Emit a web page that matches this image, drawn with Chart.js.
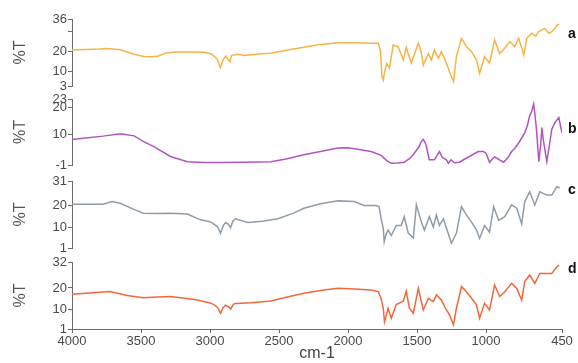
<!DOCTYPE html>
<html>
<head>
<meta charset="utf-8">
<script src="https://cdn.jsdelivr.net/npm/chart.js@4/dist/chart.umd.min.js"></script>
<style>
  body { margin: 0; background: #fff; width: 578px; height: 363px; overflow: hidden; position: relative; }
  canvas { position: absolute; left: 0; }
  .tag { position: absolute; left: 568px; font: bold 14px "Liberation Sans", Arial, sans-serif; color: #111; line-height: 14px; }
</style>
</head>
<body>
<canvas id="panelA" width="578" height="87" style="top:9px"></canvas>
<canvas id="panelB" width="578" height="86" style="top:89px"></canvas>
<canvas id="panelC" width="578" height="87" style="top:171px"></canvas>
<canvas id="panelD" width="578" height="111" style="top:252px"></canvas>
<div class="tag" style="top:26px">a</div>
<div class="tag" style="top:121px">b</div>
<div class="tag" style="top:182px">c</div>
<div class="tag" style="top:261px">d</div>
<script>
// x axis ticks (wavenumber, cm-1)
const xTicks = [4000, 3500, 3000, 2500, 2000, 1500, 1000, 450];

// spectrum a
const waveA = [4000, 3900, 3800, 3750, 3650, 3550, 3480, 3430, 3380, 3320, 3250, 3150, 3045, 2990, 2950, 2925, 2905, 2885, 2870, 2855, 2845, 2800, 2755, 2650, 2560, 2436, 2300, 2196, 2073, 1950, 1833, 1780, 1765, 1755, 1745, 1735, 1720, 1700, 1673, 1637, 1600, 1578, 1560, 1542, 1491, 1470, 1455, 1418, 1396, 1375, 1345, 1324, 1287, 1265, 1236, 1215, 1178, 1142, 1105, 1069, 1047, 1011, 975, 938, 902, 865, 829, 793, 764, 727, 705, 669, 640, 618, 575, 545, 524, 500, 487, 470];
const tA = [20.7, 21.0, 21.2, 21.5, 20.8, 18.6, 17.5, 17.4, 17.6, 19.2, 19.7, 19.8, 19.6, 18.8, 16.5, 12.0, 16.0, 17.8, 16.2, 15.0, 18.0, 18.6, 18.0, 18.8, 19.1, 20.7, 22.3, 23.5, 24.3, 24.3, 24.0, 24.0, 20, 8, 6, 10, 14, 11.9, 23.2, 22.3, 15.8, 22, 18, 14.2, 24, 20, 13.3, 19, 15.8, 20.7, 16.7, 19.9, 14.2, 10, 5.1, 17.5, 26.5, 22.4, 19.9, 15.8, 9.3, 17.5, 14.2, 25.7, 19, 21.6, 24.9, 22.4, 26.5, 18.3, 26.5, 29, 27.5, 29.8, 31.4, 29, 29.8, 31.5, 33, 33.5];

// spectrum b
const waveB = [4000, 3900, 3775, 3650, 3550, 3484, 3400, 3287, 3164, 3050, 2924, 2750, 2560, 2450, 2320, 2200, 2073, 2000, 1920, 1833, 1760, 1720, 1687, 1640, 1593, 1550, 1520, 1484, 1470, 1455, 1440, 1433, 1411, 1375, 1338, 1320, 1309, 1287, 1273, 1255, 1229, 1193, 1160, 1127, 1090, 1055, 1020, 1000, 975, 955, 938, 900, 873, 840, 815, 790, 764, 740, 720, 700, 684, 670, 655, 645, 633, 618, 605, 596, 585, 560, 545, 524, 500, 473, 460, 450];
const tB = [8.3, 8.8, 9.5, 10.4, 9.6, 7.6, 5.5, 2.1, 0.2, -0.1, -0.1, 0.0, 0.2, 1.2, 2.7, 3.9, 5.2, 5.3, 4.6, 3.9, 2.5, 0.6, -0.4, -0.3, 0, 1.5, 3.3, 5.8, 7.5, 8.3, 7.0, 5.8, 0.9, 0.9, 3.9, 2.0, 1.5, 0.9, -0.4, 0.9, -0.2, 0, 1.0, 1.9, 3.0, 3.9, 3.9, 3.3, 0, 1.2, 1.9, 0.8, 0, 1.8, 3.9, 5.2, 7, 9.0, 10.7, 13.5, 16.9, 18.5, 21.2, 17.0, 10.7, 0.2, 6.0, 12.6, 8.0, 0.2, 5.0, 12, 14.5, 16.3, 13, 10.7];

// spectrum c
const waveC = [4000, 3900, 3775, 3710, 3650, 3560, 3484, 3400, 3287, 3164, 3069, 3000, 2975, 2945, 2924, 2905, 2887, 2865, 2851, 2835, 2815, 2727, 2620, 2509, 2400, 2320, 2200, 2073, 1955, 1884, 1796, 1775, 1760, 1745, 1738, 1725, 1710, 1687, 1651, 1615, 1593, 1564, 1527, 1505, 1469, 1447, 1411, 1382, 1360, 1338, 1309, 1287, 1251, 1215, 1178, 1142, 1105, 1069, 1047, 1011, 975, 945, 909, 865, 815, 778, 742, 720, 684, 647, 611, 560, 524, 487, 465];
const tC = [20.6, 20.6, 20.6, 21.8, 21.0, 18.5, 16.6, 16.4, 16.6, 16.2, 13.6, 12.8, 11.8, 10.5, 7.6, 11, 12.4, 11.5, 10.1, 13, 14.1, 12.4, 13.0, 14.1, 16.5, 18.8, 20.8, 22.1, 21.8, 20.0, 20.0, 19.5, 14, 9.8, 3.8, 7, 9, 6.6, 11.1, 11.1, 15, 7.7, 5.5, 20.3, 12.6, 9, 15, 10.4, 15.7, 11.1, 14.1, 9.8, 3.1, 7.7, 19.5, 15.7, 12.6, 9, 5.3, 11.1, 8.1, 19.5, 13.4, 15, 20.3, 18.8, 11.8, 21.8, 26.2, 20.3, 26.2, 24.7, 24.7, 28.5, 27.8];

// spectrum d
const waveD = [4000, 3850, 3723, 3600, 3484, 3380, 3287, 3180, 3091, 3000, 2975, 2945, 2924, 2905, 2887, 2865, 2851, 2830, 2815, 2700, 2560, 2440, 2320, 2200, 2073, 1950, 1833, 1780, 1760, 1745, 1736, 1720, 1710, 1687, 1651, 1600, 1578, 1556, 1527, 1491, 1455, 1418, 1382, 1360, 1324, 1287, 1265, 1236, 1215, 1178, 1142, 1105, 1069, 1047, 1011, 975, 938, 902, 865, 815, 778, 742, 720, 684, 647, 611, 560, 524, 487, 470];
const tD = [17.1, 17.8, 18.3, 16.5, 15.5, 15.8, 16.0, 15.2, 14.4, 13.0, 12.4, 11.0, 8.3, 11, 12.0, 11.2, 10.2, 12.5, 12.8, 13.2, 14.0, 15.8, 17.5, 18.8, 19.8, 19.5, 19.0, 18.3, 15, 10.6, 4.4, 8, 10.6, 6, 12.3, 13.9, 18.5, 10.6, 8.3, 19.8, 9.8, 15.2, 13.7, 16.8, 14.4, 9.8, 7.5, 2.9, 10.6, 20.6, 18.2, 15.2, 12.1, 6, 12.9, 9.8, 21.4, 16, 18.2, 22.1, 19.8, 14.4, 22.9, 26, 22.1, 26.7, 26.7, 26.7, 29.8, 30.6];

// y tick values per panel (first = min, last = max)
const yTicksA = [3, 10, 20, 30, 36];
const yTicksB = [-1, 10, 20, 23];
const yTicksC = [1, 10, 20, 31];
const yTicksD = [1, 10, 20, 32];
const unlabeled = [30];

const axisGrey = "#6b6b6b";
const font = "'Liberation Sans', Arial, sans-serif";

function makePanel(id, waves, values, color, yTicks, showX) {
  const points = waves.map((w, i) => ({ x: w, y: values[i] }));
  return new Chart(document.getElementById(id), {
    type: "line",
    data: {
      datasets: [{
        data: points,
        borderColor: color,
        borderWidth: 1.5,
        pointRadius: 0,
        tension: 0,
        fill: false,
      }],
    },
    options: {
      responsive: false,
      animation: false,
      layout: { padding: { top: 10, bottom: showX ? 0 : 10, left: 0, right: 16 } },
      plugins: { legend: { display: false }, tooltip: { enabled: false } },
      scales: {
        x: {
          type: "linear",
          reverse: true,
          min: 450,
          max: 4000,
          display: showX,
          afterBuildTicks: (axis) => { axis.ticks = xTicks.map((v) => ({ value: v })); },
          afterFit: (axis) => { if (showX) axis.height = 34; },
          grid: { drawOnChartArea: false, tickLength: 4, color: axisGrey },
          border: { color: axisGrey, width: 1 },
          ticks: {
            autoSkip: false,
            maxRotation: 0,
            padding: 1,
            color: "#4a4a4a",
            font: { family: font, size: 13 },
            callback: (v) => String(v),
          },
          title: { display: true, text: "cm-1", padding: 0, color: "#444", font: { family: font, size: 16 } },
        },
        y: {
          min: yTicks[0],
          max: yTicks[yTicks.length - 1],
          afterBuildTicks: (axis) => { axis.ticks = yTicks.map((v) => ({ value: v })); },
          afterFit: (axis) => { axis.width = 72; },
          grid: { drawOnChartArea: false, tickLength: 4, color: axisGrey },
          border: { color: axisGrey, width: 1 },
          ticks: {
            autoSkip: false,
            padding: 1,
            color: "#4a4a4a",
            font: { family: font, size: 13 },
            callback: (v) => (unlabeled.includes(v) ? "" : String(v)),
          },
          title: { display: true, text: "%T", padding: 11, color: "#555", font: { family: font, size: 16 } },
        },
      },
    },
  });
}

makePanel("panelA", waveA, tA, "#F6B443", yTicksA, false);
makePanel("panelB", waveB, tB, "#B253C2", yTicksB, false);
makePanel("panelC", waveC, tC, "#8F9CA9", yTicksC, false);
makePanel("panelD", waveD, tD, "#F3683A", yTicksD, true);
</script>
</body>
</html>
